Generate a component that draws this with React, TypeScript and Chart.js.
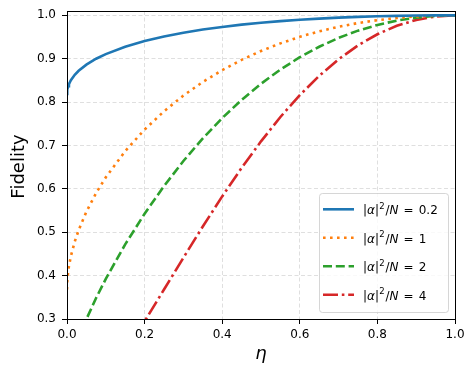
import React, { useEffect, useRef } from 'react';
import { Chart, registerables } from 'chart.js';

Chart.register(...registerables);

// eta values (x axis)
const eta = [0, 0.0002, 0.001, 0.003, 0.005, 0.01, 0.02, 0.03, 0.05, 0.075, 0.1, 0.15, 0.2, 0.25, 0.3, 0.35, 0.4, 0.45, 0.5, 0.55, 0.6, 0.65, 0.7, 0.75, 0.8, 0.85, 0.9, 0.95, 1.0];

// Fidelity for |alpha|^2/N = 0.2
const fidelity02 = [0.8187, 0.8233, 0.829, 0.8364, 0.8414, 0.8504, 0.8629, 0.8722, 0.8864, 0.8999, 0.9107, 0.9277, 0.9407, 0.9512, 0.9599, 0.9672, 0.9733, 0.9786, 0.983, 0.9867, 0.9899, 0.9925, 0.9947, 0.9964, 0.9978, 0.9988, 0.9995, 0.9999, 1.0];
// Fidelity for |alpha|^2/N = 1
const fidelity1 = [0.3679, 0.3784, 0.3915, 0.4093, 0.4217, 0.4449, 0.4785, 0.5048, 0.5473, 0.5902, 0.6266, 0.687, 0.7367, 0.7788, 0.815, 0.8464, 0.8736, 0.8973, 0.9178, 0.9354, 0.9505, 0.9631, 0.9737, 0.9822, 0.9889, 0.9939, 0.9974, 0.9994, 1.0];
// Fidelity for |alpha|^2/N = 2
const fidelity2 = [0.1353, 0.1432, 0.1533, 0.1675, 0.1778, 0.1979, 0.2289, 0.2548, 0.2995, 0.3484, 0.3926, 0.472, 0.5427, 0.6065, 0.6642, 0.7164, 0.7632, 0.8051, 0.8423, 0.875, 0.9034, 0.9276, 0.948, 0.9647, 0.9779, 0.9879, 0.9948, 0.9987, 1.0];
// Fidelity for |alpha|^2/N = 4
const fidelity4 = [0.0183, 0.0205, 0.0235, 0.0281, 0.0316, 0.0392, 0.0524, 0.0649, 0.0897, 0.1213, 0.1541, 0.2228, 0.2946, 0.3679, 0.4412, 0.5132, 0.5826, 0.6483, 0.7095, 0.7657, 0.8161, 0.8605, 0.8988, 0.9307, 0.9564, 0.9759, 0.9895, 0.9974, 1.0];

const seriesValues = ['0.2', '1', '2', '4'];
const xTicks = [0, 0.2, 0.4, 0.6, 0.8, 1.0];
const yTicks = [0.3, 0.4, 0.5, 0.6, 0.7, 0.8, 0.9, 1.0];
const xLabel = 'η';
const yLabel = 'Fidelity';

const FONT = '"DejaVu Sans"';

function drawMath(ctx: CanvasRenderingContext2D, x: number, y: number, value: string) {
  const normal = `12px ${FONT}`;
  const italic = `italic 12px ${FONT}`;
  const small = `8.5px ${FONT}`;
  const parts: { t: string; f: string; dy?: number; gap?: number }[] = [
    { t: '|', f: normal },
    { t: 'α', f: italic },
    { t: '|', f: normal, gap: 0.3 },
    { t: '2', f: small, dy: -5.5, gap: 0.7 },
    { t: '/', f: normal },
    { t: 'N', f: italic, gap: 5.2 },
    { t: '=', f: normal, gap: 5 },
    { t: value, f: normal },
  ];
  let cx = x;
  ctx.textAlign = 'left';
  ctx.textBaseline = 'alphabetic';
  for (const p of parts) {
    ctx.font = p.f;
    ctx.fillText(p.t, cx, y + (p.dy || 0));
    cx += ctx.measureText(p.t).width + (p.gap || 0);
  }
}

export default function App() {
  const ref = useRef<HTMLCanvasElement>(null);

  useEffect(() => {
    const canvas = ref.current!;
    const series = [
      { vals: fidelity02, color: '#1f77b4', dash: [] as number[] },
      { vals: fidelity1, color: '#ff7f0e', dash: [2.6, 4.4] },
      { vals: fidelity2, color: '#2ca02c', dash: [9, 3.8] },
      { vals: fidelity4, color: '#d62728', dash: [15, 3.8, 2.6, 3.8] },
    ];

    const overlay = {
      id: 'overlay',
      afterDatasetsDraw(chart: any) {
        const { ctx, chartArea: ca } = chart;
        ctx.save();
        // frame
        ctx.setLineDash([]);
        ctx.strokeStyle = '#000';
        ctx.lineWidth = 1;
        const l = Math.floor(ca.left) + 0.5;
        const r = Math.floor(ca.right) + 0.5;
        const t = Math.floor(ca.top) + 0.5;
        const b = Math.floor(ca.bottom) + 0.5;
        ctx.strokeRect(l, t, r - l, b - t);

        // legend
        const lx = 319.5, ly = 193.5, lw = 129, lh = 119;
        ctx.beginPath();
        (ctx as any).roundRect(lx, ly, lw, lh, 3);
        ctx.fillStyle = 'rgba(255,255,255,0.8)';
        ctx.fill();
        ctx.strokeStyle = 'rgba(204,204,204,0.8)';
        ctx.lineWidth = 1;
        ctx.stroke();
        const rowY = [209.3, 237.8, 266.3, 294.8];
        series.forEach((s, i) => {
          ctx.beginPath();
          ctx.setLineDash(s.dash);
          ctx.lineDashOffset = 0;
          ctx.strokeStyle = s.color;
          ctx.lineWidth = 2.6;
          ctx.lineCap = 'butt';
          ctx.moveTo(323, rowY[i]);
          ctx.lineTo(354, rowY[i]);
          ctx.stroke();
          ctx.setLineDash([]);
          ctx.fillStyle = '#000';
          drawMath(ctx, 363, rowY[i] + 5, seriesValues[i]);
        });

        // axis titles
        ctx.fillStyle = '#000';
        ctx.font = `italic 18px ${FONT}`;
        ctx.textAlign = 'center';
        ctx.textBaseline = 'alphabetic';
        ctx.fillText(xLabel, (ca.left + ca.right) / 2, 359);
        ctx.save();
        ctx.translate(23.5, (ca.top + ca.bottom) / 2 + 1.5);
        ctx.rotate(-Math.PI / 2);
        ctx.font = `18px ${FONT}`;
        ctx.fillText(yLabel, 0, 0);
        ctx.restore();
        ctx.restore();
      },
    };

    const gridCommon = {
      color: 'rgba(176,176,176,0.5)',
      lineWidth: 0.8,
      drawTicks: true,
      tickLength: 5,
      tickColor: '#000',
      tickWidth: 1,
      tickBorderDash: [],
    };

    const chart = new Chart(canvas, {
      type: 'line',
      data: {
        datasets: series.map((s, i) => ({
          label: seriesValues[i],
          data: eta.map((x, j) => ({ x, y: s.vals[j] })),
          borderColor: s.color,
          backgroundColor: s.color,
          borderWidth: 2.6,
          borderDash: s.dash,
          borderCapStyle: 'butt',
          pointRadius: 0,
          tension: 0,
          fill: false,
          clip: 0,
        })),
      },
      options: {
        animation: false,
        responsive: false,
        devicePixelRatio: 1,
        layout: { padding: { left: 0, top: 11, right: 20, bottom: 0 } },
        plugins: { legend: { display: false }, tooltip: { enabled: false } },
        scales: {
          x: {
            type: 'linear',
            min: 0,
            max: 1,
            afterBuildTicks: (s: any) => { s.ticks = xTicks.map((v) => ({ value: v })); },
            afterFit: (s: any) => { s.height = 59; s.paddingLeft = 0; s.paddingRight = 0; },
            grid: gridCommon,
            border: { display: false, dash: [4, 2.5] },
            ticks: {
              color: '#000',
              font: { family: 'DejaVu Sans', size: 12 },
              padding: 4,
              maxRotation: 0,
              callback: (v: any) => Number(v).toFixed(1),
            },
          },
          y: {
            type: 'linear',
            min: 0.3,
            max: 1.01,
            afterBuildTicks: (s: any) => { s.ticks = yTicks.map((v) => ({ value: v })); },
            afterFit: (s: any) => { s.width = 67; s.paddingTop = 0; s.paddingBottom = 0; },
            grid: gridCommon,
            border: { display: false, dash: [4, 2.5] },
            ticks: {
              color: '#000',
              font: { family: 'DejaVu Sans', size: 12 },
              padding: 6,
              callback: (v: any) => Number(v).toFixed(1),
            },
          },
        },
      },
      plugins: [overlay],
    } as any);

    return () => chart.destroy();
  }, []);

  return (
    <div style={{ position: 'fixed', left: 0, top: 0, width: 475, height: 378, background: '#fff' }}>
      <canvas ref={ref} width={475} height={378} style={{ width: 475, height: 378, display: 'block' }} />
    </div>
  );
}
